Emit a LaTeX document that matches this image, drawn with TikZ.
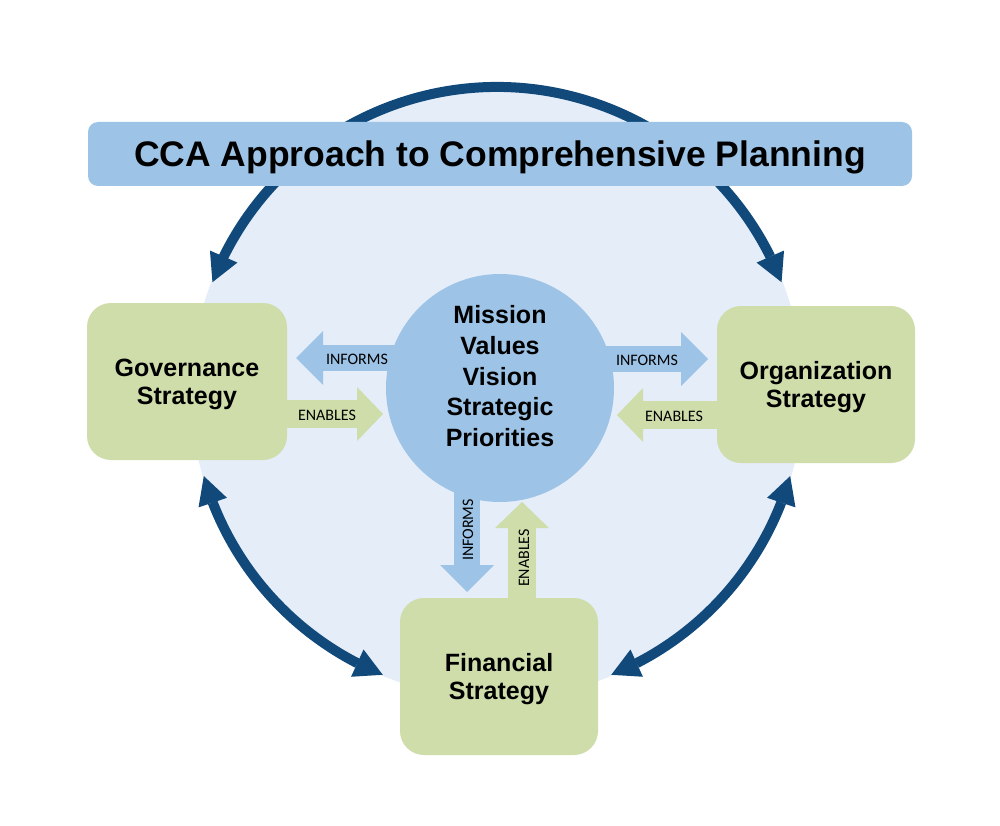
\documentclass[tikz,border=0pt]{standalone}
\usepackage{fontspec}
\setmainfont{Liberation Sans}
\newfontfamily\labelfont{Carlito}
\usetikzlibrary{arrows.meta,bending}
\definecolor{ringblue}{RGB}{16,73,122}
\definecolor{paleblue}{RGB}{229,237,249}
\definecolor{midblue}{RGB}{157,195,230}
\definecolor{sage}{RGB}{207,221,170}
\pgfdeclarelayer{ring}
\pgfdeclarelayer{shafts}
\pgfsetlayers{ring,shafts,main}
\begin{document}
\begin{tikzpicture}[x=1pt,y=-1pt,
  box/.style={rectangle, rounded corners=24pt, fill=sage, minimum width=200pt,
    minimum height=157pt, inner sep=0pt, align=center, text depth=0pt,
    font=\fontsize{25}{28}\selectfont\bfseries},
  titlebar/.style={rectangle, rounded corners=10pt, fill=midblue, minimum width=824pt,
    minimum height=64pt, inner sep=0pt, text depth=0pt,
    font=\fontsize{35.5}{40}\selectfont\bfseries},
  hub/.style={circle, fill=midblue, minimum size=228pt, inner sep=0pt, align=center,
    text depth=24pt, font=\fontsize{25}{30.8}\selectfont\bfseries},
  ringarrow/.style={draw=ringblue, line width=10pt,
    {Triangle[width=30pt,length=28pt,line width=0pt]}-{Triangle[width=30pt,length=28pt,line width=0pt]}},
  informs/.style={draw=midblue, line width=26pt, -{Triangle[width=54pt,length=27pt,line width=0pt]}},
  enables/.style={draw=sage, line width=28pt, -{Triangle[width=54pt,length=26pt,line width=0pt]}},
  lbl/.style={font=\labelfont\fontsize{16}{16}\selectfont, inner sep=0pt}
]
\useasboundingbox (0,0) rectangle (1000,826);

% ring background and circular arrows
\begin{pgfonlayer}{ring}
\fill[white] (0,0) rectangle (1000,826);
\coordinate (ringc) at (497,392);
\fill[paleblue] (ringc) circle[radius=306];
\draw[ringarrow] ([shift={(-158.9:305)}]ringc) arc[start angle=-158.9, end angle=-21.1, radius=305];
\draw[ringarrow] ([shift={(-196:305)}]ringc) arc[start angle=-196, end angle=-248, radius=305];
\draw[ringarrow] ([shift={(-292:305)}]ringc) arc[start angle=-292, end angle=-344, radius=305];
\end{pgfonlayer}

% nodes
\node[titlebar] (title) at (500,154) {CCA Approach to Comprehensive Planning};
\node[hub] (mission) at (500,388) {Mission\\Values\\Vision\\Strategic\\Priorities};
\node[box] (gov) at (187,381.5) {Governance\\Strategy};
\node[box, minimum width=198pt] (org) at (816,384.5) {Organization\\Strategy};
\node[box, minimum width=198pt] (fin) at (499,676.5) {Financial\\Strategy};

% block arrows
\coordinate (giTip) at (296,358);
\coordinate (geTip) at (383,414);
\coordinate (oiTip) at (708,359);
\coordinate (oeTip) at (617,415);
\coordinate (fiTip) at (467,592);
\coordinate (feTip) at (522,502);
\begin{pgfonlayer}{shafts}
\draw[informs] (mission.center |- giTip) -- (giTip);
\draw[enables] (gov.center |- geTip) -- (geTip);
\draw[informs] (mission.center |- oiTip) -- (oiTip);
\draw[enables] (org.center |- oeTip) -- (oeTip);
\draw[informs] (mission.center -| fiTip) -- (fiTip);
\draw[enables] (fin.center -| feTip) -- (feTip);
\end{pgfonlayer}

% arrow labels
\node[lbl] (l1) at (357,359) {INFORMS};
\node[lbl] (l2) at (327,415) {ENABLES};
\node[lbl] (l3) at (647,360) {INFORMS};
\node[lbl] (l4) at (674,416) {ENABLES};
\node[lbl,rotate=90] (l5) at (468,530) {INFORMS};
\node[lbl,rotate=90] (l6) at (524,558) {ENABLES};
\end{tikzpicture}
\end{document}
